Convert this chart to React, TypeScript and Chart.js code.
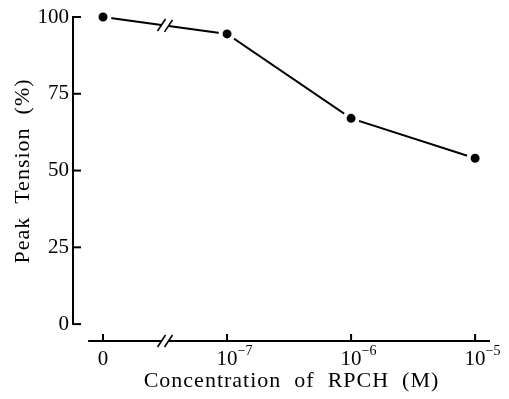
import { useEffect, useRef } from 'react';
import { Chart, registerables } from 'chart.js';

Chart.register(...registerables);

// ---- data ----
const categories = ['0', '10^−7', '10^−6', '10^−5'];
const peakTension = [100, 94.5, 67, 54];
const yTicks = [0, 25, 50, 75, 100];
const xTitle = 'Concentration  of  RPCH  (M)';
const yTitle = 'Peak  Tension  (%)';

const FONT = '"Liberation Serif", "Times New Roman", serif';
const BREAK_AT = 0.5; // axis-break position, between first two categories

function drawSlash(ctx: CanvasRenderingContext2D, cx: number, cy: number) {
  ctx.beginPath();
  ctx.moveTo(cx - 4, cy + 6);
  ctx.lineTo(cx + 4, cy - 6);
  ctx.stroke();
}

const paperAxes = {
  id: 'paperAxes',
  afterDraw(chart: any) {
    const { ctx, chartArea, scales } = chart;
    const xs = scales.x;
    const ys = scales.y;
    ctx.save();
    ctx.strokeStyle = '#000';
    ctx.fillStyle = '#000';
    ctx.lineWidth = 2;
    ctx.lineCap = 'butt';

    // y axis line + inward ticks
    const ax = chartArea.left;
    const yTop = ys.getPixelForValue(yTicks[yTicks.length - 1]);
    const yBot = ys.getPixelForValue(yTicks[0]);
    ctx.beginPath();
    ctx.moveTo(ax, yTop - 1);
    ctx.lineTo(ax, yBot + 1);
    ctx.stroke();
    yTicks.forEach((v) => {
      const p = ys.getPixelForValue(v);
      ctx.beginPath();
      ctx.moveTo(ax, p);
      ctx.lineTo(ax + 8, p);
      ctx.stroke();
    });

    // x axis line with break, upward ticks
    const bx = chartArea.bottom;
    const xStart = xs.getPixelForValue(-0.12);
    const brk = xs.getPixelForValue(BREAK_AT);
    ctx.beginPath();
    ctx.moveTo(xStart, bx);
    ctx.lineTo(brk - 3, bx);
    ctx.moveTo(brk + 3, bx);
    ctx.lineTo(chartArea.right, bx);
    ctx.stroke();
    ctx.lineWidth = 1.6;
    drawSlash(ctx, brk - 3.5, bx);
    drawSlash(ctx, brk + 3.5, bx);
    ctx.lineWidth = 2;
    categories.forEach((_, i) => {
      const p = xs.getPixelForValue(i);
      ctx.beginPath();
      ctx.moveTo(p, bx);
      ctx.lineTo(p, bx - 7);
      ctx.stroke();
    });

    // break on the data line
    const p0x = xs.getPixelForValue(0), p1x = xs.getPixelForValue(1);
    const p0y = ys.getPixelForValue(peakTension[0]), p1y = ys.getPixelForValue(peakTension[1]);
    const slope = (p1y - p0y) / (p1x - p0x);
    const ly = p0y + slope * (brk - p0x);
    ctx.strokeStyle = '#fff';
    ctx.lineWidth = 5;
    ctx.beginPath();
    ctx.moveTo(brk - 3, ly - slope * 3);
    ctx.lineTo(brk + 3, ly + slope * 3);
    ctx.stroke();
    ctx.strokeStyle = '#000';
    ctx.lineWidth = 1.6;
    drawSlash(ctx, brk - 3.5, ly - slope * 3.5);
    drawSlash(ctx, brk + 3.5, ly + slope * 3.5);

    // x tick labels with superscript exponents
    categories.forEach((lab, i) => {
      const p = xs.getPixelForValue(i);
      const [base, exp] = lab.split('^');
      ctx.font = `21px ${FONT}`;
      ctx.textAlign = 'center';
      ctx.textBaseline = 'alphabetic';
      ctx.fillText(base, p, bx + 24);
      if (exp) {
        const w = ctx.measureText(base).width;
        ctx.font = `14px ${FONT}`;
        ctx.textAlign = 'left';
        ctx.fillText(exp, p + w / 2, bx + 14);
      }
    });

    // titles
    (ctx as any).letterSpacing = '1px';
    ctx.font = `22px ${FONT}`;
    ctx.textAlign = 'center';
    ctx.textBaseline = 'alphabetic';
    ctx.fillText(xTitle, (chartArea.left + chartArea.right) / 2 + 10, bx + 46);

    ctx.translate(23, (chartArea.top + chartArea.bottom) / 2 - 8);
    ctx.rotate(-Math.PI / 2);
    ctx.textBaseline = 'middle';
    ctx.fillText(yTitle, 0, 0);
    ctx.restore();
  },
};

export default function App() {
  const ref = useRef<HTMLCanvasElement>(null);
  useEffect(() => {
    if (!ref.current) return;
    const chart = new Chart(ref.current, {
      type: 'line',
      data: {
        datasets: [
          {
            data: peakTension.map((v, i) => ({ x: i, y: v })),
            borderColor: '#000',
            borderWidth: 2,
            pointRadius: 6.5,
            pointBackgroundColor: '#000',
            pointBorderColor: '#fff',
            pointBorderWidth: 4,
            tension: 0,
            clip: false as any,
          },
        ],
      },
      options: {
        responsive: false,
        animation: false,
        devicePixelRatio: 1,
        layout: { padding: { top: 17, right: 19, bottom: 58, left: 0 } },
        plugins: { legend: { display: false }, tooltip: { enabled: false } },
        scales: {
          x: {
            type: 'linear',
            min: -0.242,
            max: 3.12,
            display: false,
          },
          y: {
            type: 'linear',
            min: -5.5,
            max: 100,
            grid: { display: false, drawTicks: false },
            border: { display: false },
            afterBuildTicks: (scale: any) => {
              scale.ticks = yTicks.map((v) => ({ value: v }));
            },
            afterFit: (scale: any) => {
              scale.width = 73;
            },
            ticks: {
              padding: 4,
              color: '#000',
              font: { family: FONT, size: 21 },
            },
          },
        },
      },
      plugins: [paperAxes],
    });
    return () => chart.destroy();
  }, []);
  return (
    <div style={{ position: 'fixed', left: 0, top: 0, width: 509, height: 399, background: '#fff' }}>
      <canvas ref={ref} width={509} height={399} style={{ display: 'block' }} />
    </div>
  );
}
